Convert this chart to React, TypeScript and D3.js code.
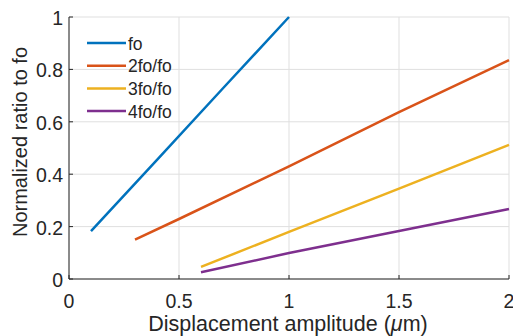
import React from "react";
import * as d3 from "d3";

const xFo = [0.1, 0.4, 0.7, 1.0];
const yFo = [0.183, 0.455, 0.728, 1.0];
const x2 = [0.3, 0.5, 1.0, 1.5, 2.0];
const y2 = [0.15, 0.229, 0.43, 0.637, 0.835];
const x3 = [0.6, 1.0, 1.5, 2.0];
const y3 = [0.046, 0.18, 0.345, 0.512];
const x4 = [0.6, 1.0, 1.5, 2.0];
const y4 = [0.026, 0.099, 0.183, 0.267];
const seriesNames = ["fo", "2fo/fo", "3fo/fo", "4fo/fo"];
const colors = ["#0072BD", "#D95319", "#EDB120", "#7E2F8E"];
const xTicks = [0, 0.5, 1, 1.5, 2];
const yTicks = [0, 0.2, 0.4, 0.6, 0.8, 1];

export default function App() {
  const W = 513, H = 336;
  const x = d3.scaleLinear().domain([0, 2]).range([69, 509]);
  const y = d3.scaleLinear().domain([0, 1]).range([279, 17]);
  const series = [
    xFo.map((v, i) => [v, yFo[i]]),
    x2.map((v, i) => [v, y2[i]]),
    x3.map((v, i) => [v, y3[i]]),
    x4.map((v, i) => [v, y4[i]]),
  ] as [number, number][][];
  const line = d3.line<[number, number]>().x(d => x(d[0])).y(d => y(d[1]));
  const font = "'Liberation Sans', Arial, sans-serif";
  const tc = "#262626";
  return (
    <svg width={W} height={H} style={{ position: "absolute", left: 0, top: 0 }} fontFamily={font}>
      <rect width={W} height={H} fill="#fff" />
      {xTicks.map(t => (
        <line key={"gx" + t} x1={x(t)} x2={x(t)} y1={y(0)} y2={y(1)} stroke="#dfdfdf" strokeWidth={1} />
      ))}
      {yTicks.map(t => (
        <line key={"gy" + t} x1={x(0)} x2={x(2)} y1={y(t)} y2={y(t)} stroke="#dfdfdf" strokeWidth={1} />
      ))}
      {series.map((s, i) => (
        <path key={i} d={line(s) || ""} fill="none" stroke={colors[i]} strokeWidth={2.5} />
      ))}
      <line x1={x(0)} x2={x(2)} y1={y(0)} y2={y(0)} stroke={tc} strokeWidth={1} />
      <line x1={x(0)} x2={x(0)} y1={y(0)} y2={y(1)} stroke={tc} strokeWidth={1} />
      {xTicks.map(t => (
        <g key={"tx" + t}>
          <line x1={x(t)} x2={x(t)} y1={y(0)} y2={y(0) - 4} stroke={tc} />
          <text x={x(t)} y={308} textAnchor="middle" fontSize={19.5} fill={tc}>{t}</text>
        </g>
      ))}
      {yTicks.map(t => (
        <g key={"ty" + t}>
          <line x1={x(0)} x2={x(0) + 4} y1={y(t)} y2={y(t)} stroke={tc} />
          <text x={x(0) - 6} y={y(t) + 8} textAnchor="end" fontSize={19.5} fill={tc}>{t}</text>
        </g>
      ))}
      <text x={288} y={331} textAnchor="middle" fontSize={21.5} fill={tc}>
        Displacement amplitude (<tspan fontStyle="italic">μ</tspan>m)
      </text>
      <text transform={`translate(27,142) rotate(-90)`} textAnchor="middle" fontSize={20} fill={tc}>
        Normalized ratio to fo
      </text>
      {seriesNames.map((n, i) => (
        <g key={n}>
          <line x1={87} x2={126} y1={43 + i * 22.7} y2={43 + i * 22.7} stroke={colors[i]} strokeWidth={2.5} />
          <text x={128} y={43 + i * 22.7 + 6.5} fontSize={17.5} fill={tc}>{n}</text>
        </g>
      ))}
    </svg>
  );
}
